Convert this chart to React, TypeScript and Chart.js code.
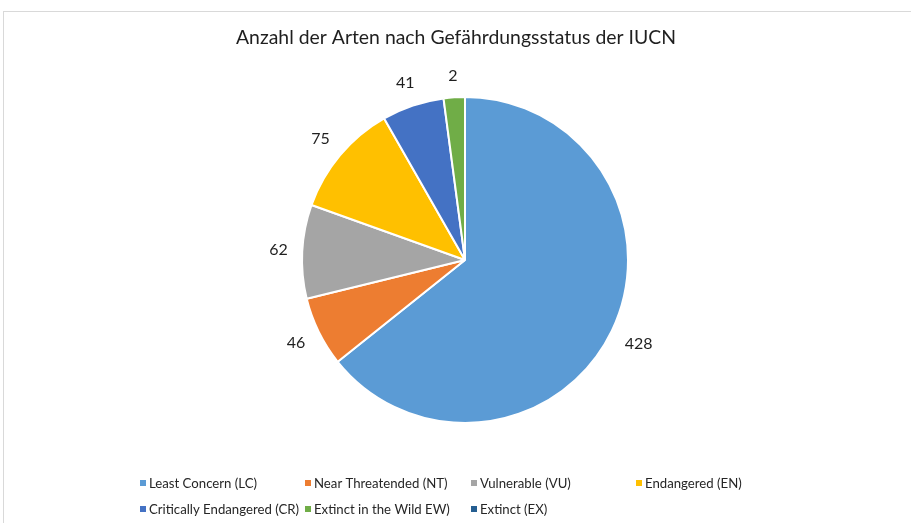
import React, { useEffect, useRef } from "react";
import { Chart, registerables } from "chart.js";

Chart.register(...registerables);

const categories = [
  "Least Concern (LC)",
  "Near Threatended (NT)",
  "Vulnerable (VU)",
  "Endangered (EN)",
  "Critically Endangered (CR)",
  "Extinct in the Wild EW)",
  "Extinct (EX)",
];
// slice sizes as drawn in the reference
const speciesCounts = [428, 46, 62, 75, 41, 14, 0];
// numbers printed next to the slices in the reference
const printedLabels = ["428", "46", "62", "75", "41", "2", ""];
const sliceColors = ["#5B9BD5", "#ED7D31", "#A5A5A5", "#FFC000", "#4472C4", "#70AD47", "#255E91"];
const titleText = "Anzahl der Arten nach Gefährdungsstatus der IUCN";

const FONT = "Lato, 'Open Sans', sans-serif";
const TEXT_COLOR = "#1f1f1f";

const decorPlugin = {
  id: "decor",
  afterDatasetsDraw(chart: any) {
    const ctx = chart.ctx;
    const meta = chart.getDatasetMeta(0);
    ctx.save();
    ctx.font = `16px ${FONT}`;
    ctx.fillStyle = TEXT_COLOR;
    ctx.textAlign = "center";
    ctx.textBaseline = "middle";
    meta.data.forEach((arc: any, i: number) => {
      const txt = printedLabels[i];
      if (!txt) return;
      const p = arc.getProps(["x", "y", "startAngle", "endAngle", "outerRadius"], true);
      const mid = (p.startAngle + p.endAngle) / 2;
      const c = Math.cos(mid);
      const s = Math.sin(mid);
      const w = ctx.measureText(txt).width;
      const h = 14;
      const d = p.outerRadius + 14 + Math.abs(c) * w / 2 + Math.abs(s) * h / 2;
      ctx.fillText(txt, p.x + c * d, p.y + s * d);
    });
    ctx.restore();
  },
  afterDraw(chart: any) {
    const ctx = chart.ctx;
    ctx.save();
    // title
    ctx.font = `19.4px ${FONT}`;
    ctx.fillStyle = TEXT_COLOR;
    ctx.textAlign = "center";
    ctx.textBaseline = "alphabetic";
    ctx.fillText(titleText, 456, 44);
    // legend grid
    const cols = [140, 305, 471, 636];
    const rows = [483, 509];
    ctx.font = `13.2px ${FONT}`;
    ctx.textAlign = "left";
    ctx.textBaseline = "middle";
    categories.forEach((cat, i) => {
      const x = cols[i % 4];
      const y = rows[Math.floor(i / 4)];
      ctx.fillStyle = sliceColors[i];
      ctx.fillRect(x, y - 3, 6, 6);
      ctx.fillStyle = "#262626";
      ctx.fillText(cat, x + 9, y + 0.5);
    });
    ctx.restore();
  },
};

export default function App() {
  const ref = useRef<HTMLCanvasElement | null>(null);
  useEffect(() => {
    if (!ref.current) return;
    const chart = new Chart(ref.current, {
      type: "pie",
      data: {
        labels: categories,
        datasets: [
          {
            data: speciesCounts,
            backgroundColor: sliceColors,
            borderColor: "#ffffff",
            borderWidth: 2,
          },
        ],
      },
      options: {
        animation: false,
        responsive: false,
        maintainAspectRatio: false,
        radius: 163,
        layout: { padding: { left: 120, right: 101, top: 40, bottom: 43 } },
        plugins: {
          legend: { display: false },
          title: { display: false },
          tooltip: { enabled: false },
        },
      } as any,
      plugins: [decorPlugin],
    });
    return () => chart.destroy();
  }, []);
  return (
    <div style={{ position: "fixed", left: 0, top: 0, width: 911, height: 523, background: "#fff" }}>
      <div
        style={{
          position: "absolute",
          left: 3,
          top: 11,
          width: 920,
          height: 530,
          borderTop: "1px solid #d9d9d9",
          borderLeft: "1px solid #d9d9d9",
        }}
      />
      <canvas ref={ref} width={911} height={523} style={{ position: "absolute", left: 0, top: 0 }} />
    </div>
  );
}
